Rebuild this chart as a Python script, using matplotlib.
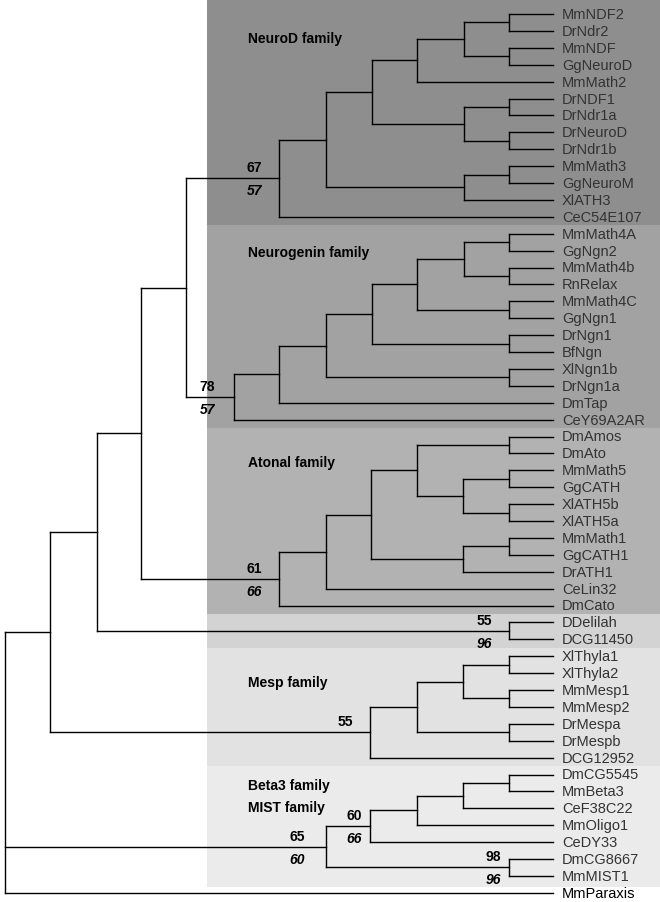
#!/usr/bin/python
import matplotlib
matplotlib.use("Agg")
from matplotlib import pyplot as plt

plt.rcParams['font.family'] = ['Liberation Sans', 'DejaVu Sans']

# tree data: [node depth, child, child, ...]; leaves are names
neurod = [279,
          [326,
           [372,
            [417,
             [464, [509, "MmNDF2", "DrNdr2"], [509, "MmNDF", "GgNeuroD"]],
             "MmMath2"],
            [464, [509, "DrNDF1", "DrNdr1a"], [509, "DrNeuroD", "DrNdr1b"]]],
           [464, [509, "MmMath3", "GgNeuroM"], "XlATH3"]],
          "CeC54E107"]

neurogenin = [234,
              [279,
               [326,
                [372,
                 [417,
                  [464, [509, "MmMath4A", "GgNgn2"], [509, "MmMath4b", "RnRelax"]],
                  [509, "MmMath4C", "GgNgn1"]],
                 [509, "DrNgn1", "BfNgn"]],
                [509, "XlNgn1b", "DrNgn1a"]],
               "DmTap"],
              "CeY69A2AR"]

atonal = [279,
          [326,
           [371,
            [417, [509, "DmAmos", "DmAto"],
             [463, [509, "MmMath5", "GgCATH"], [509, "XlATH5b", "XlATH5a"]]],
            [463, [509, "MmMath1", "GgCATH1"], "DrATH1"]],
           "CeLin32"],
          "DmCato"]

delilah = [509, "DDelilah", "DCG11450"]

mesp = [370,
        [417,
         [463, [509, "XlThyla1", "XlThyla2"], [509, "MmMesp1", "MmMesp2"]],
         [509, "DrMespa", "DrMespb"]],
        "DCG12952"]

beta3_mist = [326,
              [370, [417, [463, [509, "DmCG5545", "MmBeta3"], "CeF38C22"], "MmOligo1"], "CeDY33"],
              [509, "DmCG8667", "MmMIST1"]]

tree = [5,
        [50,
         [97,
          [141, [186, neurod, neurogenin], atonal],
          delilah],
         mesp],
        beta3_mist,
        "MmParaxis"]

leaf_depth = 553

# bootstrap values (upper, lower italic) keyed by (first leaf of clade, node depth)
bootstrap = {
    ("MmNDF2", 279): ("67", "57"),
    ("MmMath4A", 234): ("78", "57"),
    ("DmAmos", 279): ("61", "66"),
    ("DDelilah", 509): ("55", "96"),
    ("XlThyla1", 370): ("55", None),
    ("DmCG5545", 326): ("65", "60"),
    ("DmCG5545", 370): ("60", "66"),
    ("DmCG8667", 509): ("98", "96"),
}

family_rows = [(0, 12), (13, 24), (25, 35), (36, 37), (38, 44), (45, 51)]
family_colors = ["#8e8e8e", "#a2a2a2", "#b2b2b2", "#d3d3d3", "#e2e2e2", "#ebebeb"]
family_names = ["NeuroD family", "Neurogenin family", "Atonal family",
                "Mesp family", "Beta3 family", "MIST family"]

# layout (pixel-ish units)
W, H = 660, 903
row0, row_h = 15, 16.9

fig = plt.figure(figsize=(W / 100, H / 100), dpi=100)
ax = fig.add_axes([0, 0, 1, 1])
ax.set_xlim(0, W)
ax.set_ylim((H - row0) / row_h, -row0 / row_h)
ax.axis('off')

# shaded family bands
band_x0 = 207
for i, ((a, b), col) in enumerate(zip(family_rows, family_colors)):
    top = a - 0.5 if i > 0 else -row0 / row_h
    bot = b + (0.65 if i == len(family_rows) - 1 else 0.5)
    ax.fill_between([band_x0, W], top, bot, color=col, lw=0, zorder=0)

name_rows = [1.4, 14.1, 26.5, 39.5, 45.6, 46.9]
for fam, r in zip(family_names, name_rows):
    ax.text(248, r, fam, fontsize=10, fontweight='bold', va='center', ha='left', zorder=3)

leaves = []
nodes = {}
lw = 1.0


def draw(node):
    if isinstance(node, str):
        y = len(leaves)
        leaves.append(node)
        return leaf_depth, y, node
    x = node[0]
    kids = [draw(c) for c in node[1:]]
    ys = [k[1] for k in kids]
    ax.plot([x, x], [min(ys), max(ys)], color='black', lw=lw, solid_capstyle='projecting', zorder=2)
    for kx, ky, _ in kids:
        ax.plot([x, kx], [ky, ky], color='black', lw=lw, solid_capstyle='projecting', zorder=2)
    y = (min(ys) + max(ys)) / 2
    first = kids[0][2]
    nodes[(first, x)] = (x, y)
    return x, y, first


draw(tree)

for i, name in enumerate(leaves):
    ax.text(leaf_depth + 9, i, name, fontsize=10.5, va='center', ha='left',
            color='black' if name == "MmParaxis" else '#333333', zorder=3)

# bootstrap labels: offset (pixels) of right edge from node
boot_dx = [-17, -19, -17, -17, -17, -21, -8, -8]
for dx, (key, (up, low)) in zip(boot_dx, bootstrap.items()):
    x, y = nodes[key]
    ax.annotate(up, (x, y), xytext=(dx, 11), textcoords='offset pixels',
                ha='right', va='center', fontsize=10, fontweight='bold', zorder=3)
    if low:
        ax.annotate(low, (x, y), xytext=(dx, -12), textcoords='offset pixels',
                    ha='right', va='center', fontsize=10, fontweight='bold',
                    style='italic', zorder=3)

fig.savefig("out.png", dpi=100)
